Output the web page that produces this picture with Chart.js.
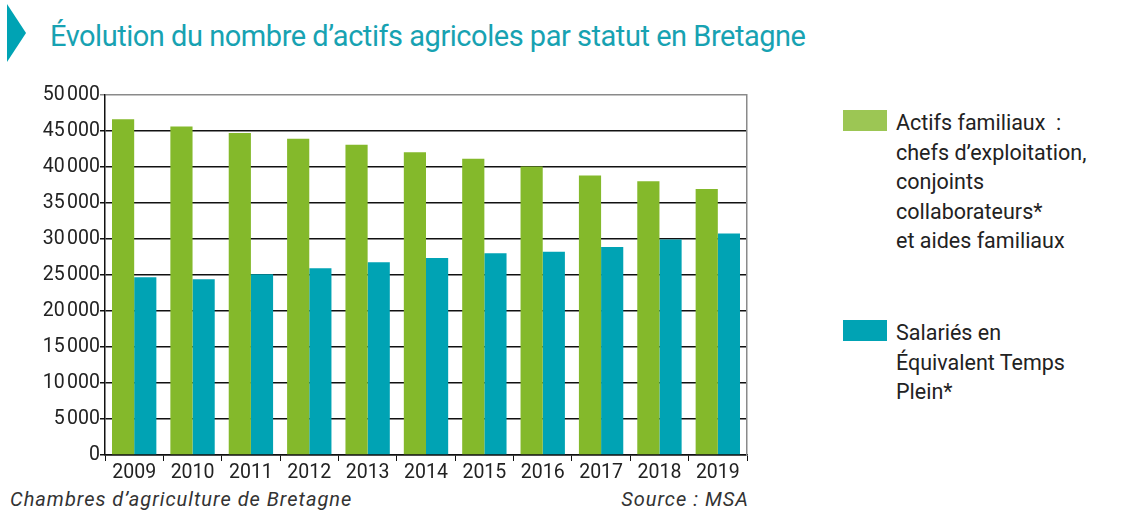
<!DOCTYPE html>
<html lang="fr">
<head>
<meta charset="utf-8">
<script src="https://cdn.jsdelivr.net/npm/chart.js@4/dist/chart.umd.min.js"></script>
<style>
  html, body { margin: 0; padding: 0; background: #fff; }
  body { width: 1121px; height: 517px; position: relative; overflow: hidden; font-family: Roboto, sans-serif; }
  .arrow {
    position: absolute; left: 7px; top: 4px; width: 0; height: 0;
    border-top: 29px solid transparent; border-bottom: 29px solid transparent;
    border-left: 19px solid #00a3b4;
  }
  h1 {
    position: absolute; left: 50px; top: 19px; margin: 0;
    font-weight: 400; font-size: 29px; color: #17a2b2; letter-spacing: -0.47px; white-space: nowrap;
  }
  #wrap { position: absolute; left: 0; top: 83px; width: 760px; height: 400px; }
  .legend { position: absolute; left: 843px; font-size: 21.5px; line-height: 29.5px; color: #222; }
  .legend .sw { position: absolute; left: 0; top: 0; width: 44px; height: 21px; }
  .legend .txt { position: absolute; left: 53px; top: -2px; white-space: nowrap; }
  .foot { position: absolute; top: 487px; font-style: italic; font-size: 20px; letter-spacing: 1px; color: #333; }
</style>
</head>
<body>
<div class="arrow"></div>
<h1>Évolution du nombre d’actifs agricoles par statut en Bretagne</h1>
<div id="wrap"><canvas id="chart"></canvas></div>
<div class="legend" style="top:110px">
  <div class="sw" style="background:#9cc654"></div>
  <div class="txt">Actifs familiaux&nbsp;&nbsp;:<br>chefs d’exploitation,<br>conjoints<br>collaborateurs*<br>et aides familiaux</div>
</div>
<div class="legend" style="top:320px">
  <div class="sw" style="background:#00a3b4"></div>
  <div class="txt">Salariés en<br>Équivalent Temps<br>Plein*</div>
</div>
<div class="foot" style="left:10px">Chambres d’agriculture de Bretagne</div>
<div class="foot" style="right:372px">Source : MSA</div>
<script>
const years = ['2009', '2010', '2011', '2012', '2013', '2014', '2015', '2016', '2017', '2018', '2019'];
const actifsFamiliaux = [46600, 45600, 44700, 43900, 43050, 42000, 41100, 40050, 38800, 38000, 36900];
const salariesETP = [24650, 24400, 25100, 25900, 26750, 27350, 28000, 28200, 28850, 29900, 30750];
const yTicks = [0, 5000, 10000, 15000, 20000, 25000, 30000, 35000, 40000, 45000, 50000];

const fmt = v => v >= 1000 ? `${Math.floor(v / 1000)}\u202f${String(v % 1000).padStart(3, '0')}` : String(v);

new Chart(document.getElementById('chart'), {
  type: 'bar',
  data: {
    labels: years,
    datasets: [{
      label: 'Actifs familiaux',
      data: actifsFamiliaux,
      backgroundColor: '#84b92b'
    },
    {
      label: 'Salariés en Équivalent Temps Plein',
      data: salariesETP,
      backgroundColor: '#00a3b4'
    }]
  },
  options: {
    responsive: true,
    maintainAspectRatio: false,
    animation: false,
    categoryPercentage: 0.76,
    barPercentage: 1,
    layout: { padding: { top: 10, right: 13, left: 0, bottom: 0 } },
    plugins: {
      legend: { display: false },
      tooltip: { enabled: false }
    },
    scales: {
      x: {
        grid: {
          offset: true,
          drawOnChartArea: false,
          tickLength: 6,
          color: '#111'
        },
        border: { color: '#111', width: 1.5 },
        ticks: {
          color: '#222',
          font: { family: 'Roboto', size: 19.5 },
          padding: 0,
          maxRotation: 0
        },
        afterFit: scale => { scale.height = 28; }
      },
      y: {
        min: 0,
        max: 50000,
        afterBuildTicks: scale => { scale.ticks = yTicks.map(v => ({ value: v })); },
        grid: {
          color: ctx => (ctx.tick && ctx.tick.value === 50000 ? '#8a8a8a' : '#111'),
          lineWidth: 1.5,
          tickLength: 5
        },
        border: { color: '#111', width: 1.5 },
        ticks: {
          color: '#222',
          font: { family: 'Roboto', size: 19.5 },
          padding: 0,
          callback: v => fmt(v)
        },
        afterFit: scale => { scale.width = 105; }
      },
      y2: {
        position: 'right',
        min: 0,
        max: 50000,
        grid: { display: false },
        ticks: { display: false },
        border: { color: '#8a8a8a', width: 1.5 },
        afterFit: scale => { scale.width = 0; }
      }
    }
  }
});
</script>
</body>
</html>
